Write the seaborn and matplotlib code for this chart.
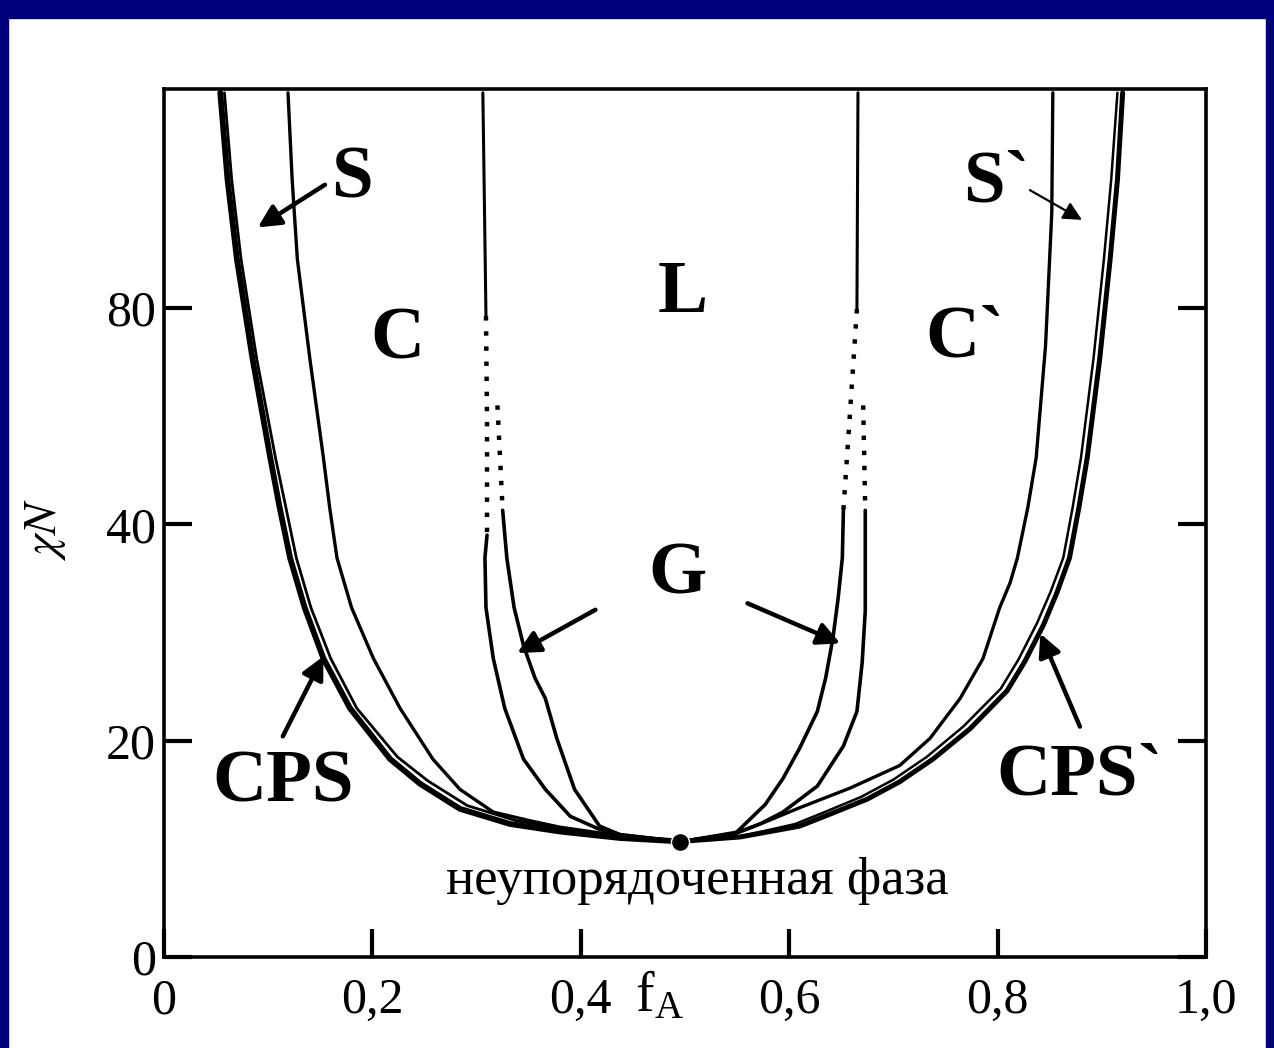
import numpy as np
import pandas as pd
import matplotlib
matplotlib.use("Agg")
import matplotlib.pyplot as plt
import seaborn as sns
from matplotlib.patches import Rectangle

# Phase boundaries: f_A and chi*N
# left half
odt_l_f = [0.493, 0.438, 0.380, 0.332, 0.284, 0.246, 0.217, 0.1785, 0.153, 0.135, 0.121, 0.111, 0.102, 0.085, 0.070, 0.061, 0.054]
odt_l_n = [10.7, 11.0, 11.6, 12.3, 13.7, 16.0, 18.3, 23.0, 27.6, 32.3, 36.9, 43.1, 52.3, 70.6, 89.0, 103.7, 119.8]
cps_l_f = [0.493, 0.44, 0.385, 0.338, 0.291, 0.253, 0.224, 0.185, 0.160, 0.141, 0.127, 0.117, 0.107, 0.089, 0.074, 0.065, 0.058]
cps_l_n = [10.7, 11.05, 11.8, 12.6, 14.0, 16.3, 18.5, 23.0, 27.6, 32.3, 36.9, 43.1, 52.3, 70.6, 89.0, 103.7, 119.8]
sc_l_f = [0.493, 0.438, 0.380, 0.351, 0.316, 0.284, 0.258, 0.2265, 0.201, 0.180, 0.166, 0.159, 0.153, 0.140, 0.128, 0.123, 0.119]
sc_l_n = [10.7, 11.2, 12.0, 12.6, 13.4, 15.5, 18.3, 23.0, 27.6, 32.3, 36.9, 43.1, 52.3, 70.6, 89.0, 103.7, 119.8]
cl_l_f = [0.306, 0.309]
cl_l_n = [119.8, 78.5]
cg_l_dot_f = [0.309, 0.310, 0.310]
cg_l_dot_n = [78.5, 59.6, 39.0]
cg_l_f = [0.310, 0.308, 0.309, 0.316, 0.327, 0.345, 0.366, 0.390, 0.418, 0.438, 0.493]
cg_l_n = [39.0, 36.9, 32.3, 27.6, 23.0, 18.3, 15.5, 13.0, 11.8, 11.3, 10.7]
gl_l_dot_f = [0.320, 0.325]
gl_l_dot_n = [62.0, 42.6]
gl_l_f = [0.325, 0.329, 0.336, 0.345, 0.356, 0.366, 0.377, 0.394, 0.418, 0.438, 0.493]
gl_l_n = [42.6, 36.9, 32.3, 28.8, 25.8, 23.9, 20.2, 15.5, 12.1, 11.3, 10.7]

# right half
odt_r_f = [0.498, 0.553, 0.610, 0.639, 0.675, 0.706, 0.738, 0.7735, 0.809, 0.826, 0.844, 0.857, 0.869, 0.878, 0.886, 0.898, 0.908, 0.915, 0.920]
odt_r_n = [10.7, 11.1, 12.1, 13.2, 14.6, 16.2, 18.3, 21.1, 24.6, 27.3, 30.7, 33.7, 36.9, 43.1, 52.3, 70.6, 89.0, 103.7, 119.8]
cps_r_f = [0.498, 0.553, 0.606, 0.634, 0.669, 0.700, 0.732, 0.767, 0.803, 0.820, 0.838, 0.851, 0.863, 0.872, 0.880, 0.892, 0.902, 0.909, 0.915]
cps_r_n = [10.7, 11.15, 12.3, 13.4, 14.8, 16.4, 18.5, 21.3, 24.8, 27.5, 30.9, 33.8, 36.9, 43.1, 52.3, 70.6, 89.0, 103.7, 119.8]
sc_r_f = [0.498, 0.553, 0.580, 0.610, 0.658, 0.706, 0.735, 0.764, 0.786, 0.802, 0.812, 0.819, 0.829, 0.837, 0.846, 0.852, 0.853]
sc_r_n = [10.7, 11.6, 12.6, 13.8, 15.6, 17.7, 20.2, 23.9, 27.6, 32.3, 34.6, 36.9, 43.1, 52.3, 73.0, 97.6, 119.8]
cl_r_f = [0.666, 0.665]
cl_r_n = [119.8, 79.8]
gl_r_dot_f = [0.665, 0.658, 0.652]
gl_r_dot_n = [79.8, 59.6, 42.6]
gl_r_f = [0.652, 0.651, 0.647, 0.642, 0.635, 0.627, 0.610, 0.594, 0.577, 0.548, 0.498]
gl_r_n = [42.6, 36.9, 33.2, 29.5, 25.8, 22.7, 19.3, 16.5, 14.1, 11.4, 10.7]
cg_r_dot_f = [0.671, 0.673]
cg_r_dot_n = [62.0, 42.6]
cg_r_f = [0.673, 0.673, 0.670, 0.665, 0.652, 0.627, 0.594, 0.572, 0.548, 0.498]
cg_r_n = [42.6, 32.0, 27.2, 22.7, 19.5, 15.8, 13.4, 12.3, 11.4, 10.7]

crit_f = [0.495]
crit_n = [10.6]

x_ticks = [0, 0.2, 0.4, 0.6, 0.8, 1.0]
x_labels = ["0", "0,2", "0,4", "0,6", "0,8", "1,0"]
y_ticks = [0, 20, 40, 80]
y_labels = ["0", "20", "40", "80"]

phase_labels = ["S", "S`", "C", "L", "C`", "G", "CPS", "CPS`"]
phase_f = [0.180, 0.799, 0.224, 0.498, 0.769, 0.493, 0.114, 0.879]
phase_n = [103.7, 103.1, 74.0, 82.6, 74.3, 35.3, 16.0, 16.7]

# arrows: (tail f, tail N, head f, head N)
arrows = [
    (0.1545, 102.8, 0.090, 94.9),
    (0.414, 32.1, 0.339, 28.1),
    (0.560, 32.7, 0.649, 29.0),
    (0.114, 20.4, 0.153, 27.8),
    (0.879, 21.3, 0.841, 29.9),
]
arrow_s2 = (0.831, 101.8, 0.881, 96.3)


def fwd(y):
    y = np.asarray(y, dtype=float)
    return np.where(y <= 40, y, 40 + (y - 40) / 2)


def inv(t):
    t = np.asarray(t, dtype=float)
    return np.where(t <= 40, t, 40 + (t - 40) * 2)


sns.set_theme(style="white")
plt.rcParams['font.family'] = ['Liberation Serif', 'DejaVu Serif']
plt.rcParams['mathtext.fontset'] = 'stix'
plt.rcParams['text.color'] = 'black'

fig = plt.figure(figsize=(12.74, 10.48), dpi=100)
fig.patch.set_facecolor('white')
ax = fig.add_axes([164 / 1274, 1 - 957 / 1048, 1042 / 1274, 868 / 1048])
ax.set_facecolor('white')


def curve(f, n, lw, ls='-'):
    df = pd.DataFrame({'f': f, 'n': n})
    sns.lineplot(data=df, x='f', y='n', sort=False, estimator=None,
                 color='black', linewidth=lw, linestyle=ls, ax=ax)


# solid boundaries
curve(odt_l_f, odt_l_n, 4.2)
curve(cps_l_f, cps_l_n, 2.0)
curve(sc_l_f, sc_l_n, 2.4)
curve(cl_l_f, cl_l_n, 2.2)
curve(cg_l_f, cg_l_n, 2.6)
curve(gl_l_f, gl_l_n, 2.6)
curve(odt_r_f, odt_r_n, 3.6)
curve(cps_r_f, cps_r_n, 1.8)
curve(sc_r_f, sc_r_n, 2.4)
curve(cl_r_f, cl_r_n, 2.2)
curve(gl_r_f, gl_r_n, 2.6)
curve(cg_r_f, cg_r_n, 2.6)

# dotted (extrapolated) parts
for f, n in [(cg_l_dot_f, cg_l_dot_n), (gl_l_dot_f, gl_l_dot_n),
             (gl_r_dot_f, gl_r_dot_n), (cg_r_dot_f, cg_r_dot_n)]:
    curve(f, n, 3.2, ls=(0, (1, 2.4)))

# critical point
sns.scatterplot(x=crit_f, y=crit_n, color='black', s=170, ax=ax, zorder=5)

ax.set_yscale('function', functions=(fwd, inv))
ax.set_xlim(0, 1.0)
ax.set_ylim(0, 120.5)

for lab, f, n in zip(phase_labels, phase_f, phase_n):
    ax.text(f, n, lab, fontsize=54, fontweight='bold', ha='center', va='center',
            color='black')

for tf, tn, hf, hn in arrows:
    ax.annotate("", xy=(hf, hn), xytext=(tf, tn),
                arrowprops=dict(arrowstyle='-|>', color='black', lw=3.2,
                                mutation_scale=34, shrinkA=0, shrinkB=0))
tf, tn, hf, hn = arrow_s2
ax.annotate("", xy=(hf, hn), xytext=(tf, tn),
            arrowprops=dict(arrowstyle='-|>', color='black', lw=1.6,
                            mutation_scale=28, shrinkA=0, shrinkB=0))

ax.text(0.512, 7.0, "неупорядоченная фаза", fontsize=38, ha='center', va='center',
        color='black')

ax.set_xticks(x_ticks)
ax.set_xticklabels(x_labels)
ax.set_yticks(y_ticks)
ax.set_yticklabels(y_labels)
ax.tick_params(axis='x', direction='in', length=20, width=3, pad=15, labelsize=36,
               colors='black', bottom=True)
ax.tick_params(axis='y', direction='in', length=20, width=3, pad=6, labelsize=36,
               colors='black', left=True, right=True)
ax.minorticks_off()
ax.set_xlabel("")
ax.set_ylabel("")
for sp in ax.spines.values():
    sp.set_visible(True)
    sp.set_color('black')
    sp.set_linewidth(2.6)

ax.text(0.476, -0.046, r"f$_\mathregular{A}$", transform=ax.get_xaxis_transform(),
        fontsize=40, ha='center', va='center', color='black')
ax.text(-0.114, 0.492, r"$\chi N$", transform=ax.transAxes, rotation=90,
        fontsize=34, ha='center', va='center', color='black')

# blue slide border
navy = '#00007f'
fig.patches.append(Rectangle((0, 1 - 18 / 1048), 1, 18 / 1048, transform=fig.transFigure,
                             color=navy, zorder=-1))
fig.patches.append(Rectangle((0, 0), 8 / 1274, 1, transform=fig.transFigure,
                             color=navy, zorder=-1))
fig.patches.append(Rectangle((1 - 8 / 1274, 0), 8 / 1274, 1, transform=fig.transFigure,
                             color=navy, zorder=-1))

fig.savefig('out.png', dpi=100, facecolor='white')
